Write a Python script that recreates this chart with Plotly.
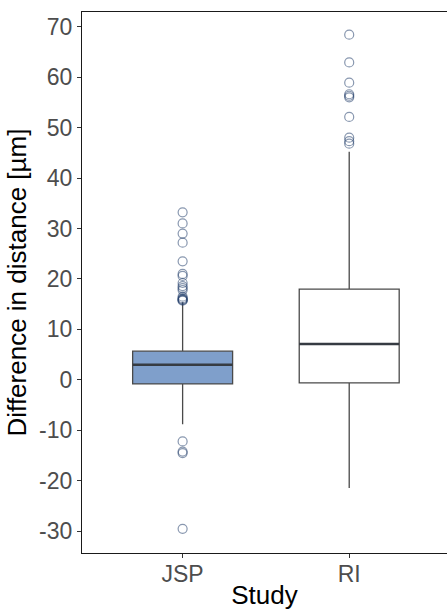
import plotly.graph_objects as go

# Summary statistics per study (difference in distance, µm)
studies = ["JSP", "RI"]
q1 = [-0.8, -0.6]
median = [3.0, 7.1]
q3 = [5.7, 18.0]
lower_whisker = [-8.8, -21.4]
upper_whisker = [15.4, 45.2]

# Points beyond 1.5 * IQR
jsp_outliers = [33.2, 31.0, 29.0, 27.2, 23.5, 21.0, 20.6, 19.2, 18.6, 18.2, 17.8,
                16.5, 16.2, 16.0, 15.9, 15.8, 15.7, -12.2, -14.2, -14.5, -29.5]
ri_outliers = [68.4, 62.9, 58.9, 56.6, 56.3, 56.0, 52.1, 48.0, 47.3, 46.8]

y_ticks = [-30, -20, -10, 0, 10, 20, 30, 40, 50, 60, 70]
y_ticktext = [str(v) for v in y_ticks]  # plain hyphen for negatives

box_fill = ["#7f9fcb", "rgba(255,255,255,0)"]
box_width = 0.6

fig = go.Figure()

for i, s in enumerate(studies):
    fig.add_trace(go.Box(
        x=[s], q1=[q1[i]], median=[median[i]], q3=[q3[i]],
        lowerfence=[lower_whisker[i]], upperfence=[upper_whisker[i]],
        boxpoints=False, width=box_width, whiskerwidth=0,
        fillcolor=box_fill[i],
        line=dict(color="#4a4a4a", width=1.3),
        showlegend=False, hoverinfo="skip",
    ))
    # thicker median line on top of the box
    fig.add_trace(go.Box(
        x=[s], q1=[median[i]], median=[median[i]], q3=[median[i]],
        lowerfence=[median[i]], upperfence=[median[i]],
        boxpoints=False, width=box_width, whiskerwidth=0,
        fillcolor="rgba(0,0,0,0)",
        line=dict(color="#363b42", width=2.6),
        showlegend=False, hoverinfo="skip",
    ))

outlier_marker = dict(symbol="circle-open", size=9,
                      color="rgba(38,66,110,0.55)", line=dict(width=1.2))
fig.add_trace(go.Scatter(x=["JSP"] * len(jsp_outliers), y=jsp_outliers,
                         mode="markers", marker=outlier_marker, showlegend=False))
fig.add_trace(go.Scatter(x=["RI"] * len(ri_outliers), y=ri_outliers,
                         mode="markers", marker=outlier_marker, showlegend=False))

tick_font = dict(family="Liberation Sans, Arial, sans-serif", size=23, color="#4d4d4d")
title_font = dict(family="Liberation Sans, Arial, sans-serif", size=26, color="#000000")

fig.update_layout(
    width=447, height=611,
    margin=dict(l=82, r=0, t=12, b=58),
    paper_bgcolor="white", plot_bgcolor="white",
    boxmode="overlay",
    xaxis=dict(
        type="category", categoryorder="array", categoryarray=studies,
        range=[-0.604, 1.587],
        showline=True, mirror=True, linecolor="#1a1a1a", linewidth=1.3,
        ticks="outside", ticklen=4, tickcolor="#333333", tickwidth=1.1,
        ticklabelstandoff=-4,
        showgrid=False, zeroline=False, tickfont=tick_font,
        title=dict(text="Study", font=title_font, standoff=0),
    ),
    yaxis=dict(
        range=[-34.3, 72.9], tickmode="array",
        tickvals=y_ticks, ticktext=y_ticktext,
        showline=True, mirror=False, linecolor="#1a1a1a", linewidth=1.3,
        ticks="outside", ticklen=4, tickcolor="#333333", tickwidth=1.1,
        showgrid=False, zeroline=False, tickfont=tick_font,
        title=dict(text="Difference in distance [µm]", font=title_font, standoff=4),
    ),
)

fig.write_html("out.html")
